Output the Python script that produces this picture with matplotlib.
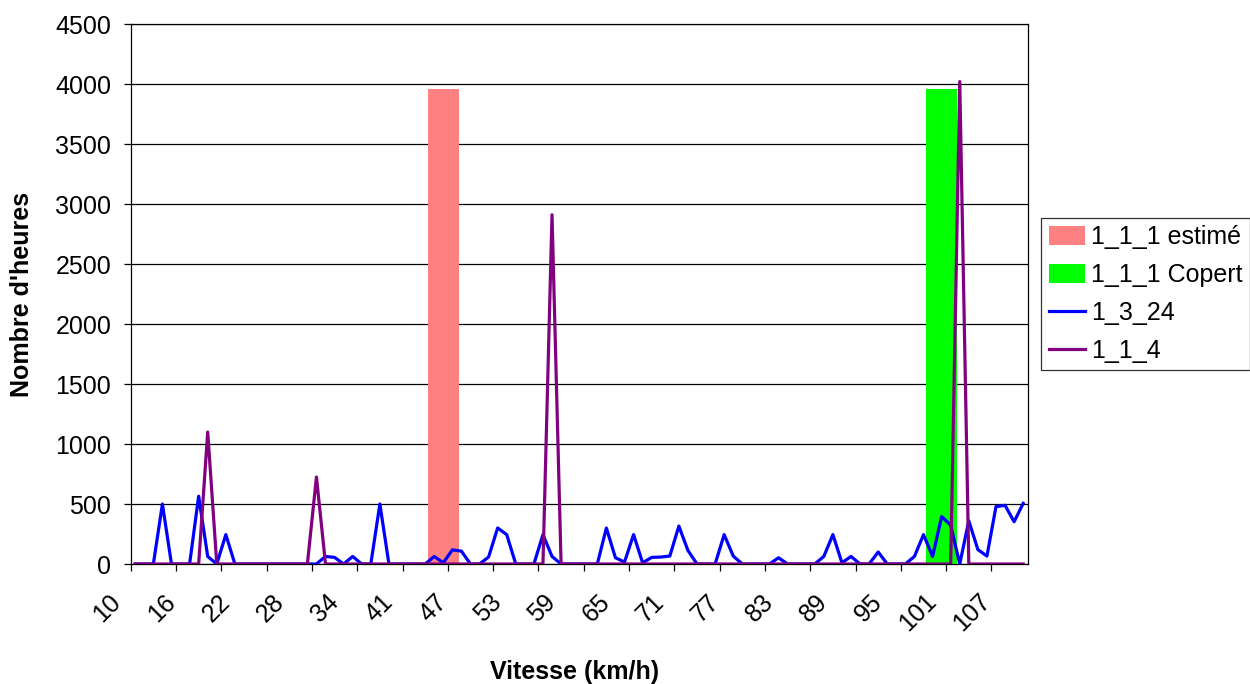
import numpy as np
import matplotlib
matplotlib.use("Agg")
import matplotlib.pyplot as plt
from matplotlib.transforms import ScaledTranslation

plt.rcParams['font.family'] = ['Liberation Sans', 'DejaVu Sans']

# speeds (km/h), one category per speed
speeds = list(range(10, 35)) + list(range(36, 110))

# hours per speed
serie_1_3_24 = [0, 0, 0, 500, 0, 0, 0, 565, 63, 0,
                245, 0, 0, 0, 0, 0, 0, 0, 0, 0,
                0, 63, 55, 0, 63, 0, 0, 500, 0, 0,
                0, 0, 0, 63, 10, 118, 107, 0, 0, 58,
                300, 245, 0, 0, 0, 245, 63, 0, 0, 0,
                0, 0, 300, 52, 16, 245, 10, 55, 58, 66,
                316, 113, 0, 0, 0, 245, 66, 0, 0, 0,
                0, 52, 0, 0, 0, 0, 63, 245, 10, 63,
                0, 0, 100, 0, 0, 0, 63, 245, 63, 395,
                324, 0, 360, 120, 66, 478, 489, 352, 505]

serie_1_1_4 = [0] * len(speeds)
pics_1_1_4 = {18: 1100, 30: 725, 57: 2910, 102: 4020}
for v, h in pics_1_1_4.items():
    serie_1_1_4[speeds.index(v)] = h

# bar series: one speed each
estime_vitesse, estime_heures = 45, 3960
copert_vitesse, copert_heures = 100, 3960

tick_every = 6
minor_every = 5
fs = 18

x = np.arange(len(speeds))

fig = plt.figure(figsize=(12.5, 6.84), dpi=100)
ax = fig.add_axes([130.7 / 1250, 1 - 564 / 684, 897 / 1250, 540 / 684])

b1 = ax.bar(speeds.index(estime_vitesse), estime_heures, width=3.4, color='#FF8080',
            label='1_1_1 estimé', zorder=2)
b2 = ax.bar(speeds.index(copert_vitesse), copert_heures, width=3.4, color='#00FF00',
            label='1_1_1 Copert', zorder=2)
l1, = ax.plot(x, serie_1_3_24, color='#0000FF', lw=2.3, label='1_3_24', zorder=3)
l2, = ax.plot(x, serie_1_1_4, color='#800080', lw=2.3, label='1_1_4', zorder=4)

ax.set_xlim(-0.5, len(speeds) - 0.5)
ax.set_ylim(0, 4500)
ax.set_yticks(np.arange(0, 4501, 500))
ax.yaxis.grid(True, color='black', lw=0.9)
ax.set_axisbelow(True)

pos = x[::tick_every]
ax.set_xticks(pos, [str(speeds[i]) for i in pos])
ax.set_xticks(np.arange(-0.5, len(speeds) - 1, minor_every), minor=True)
ax.tick_params(axis='x', which='major', length=0, pad=0, labelsize=fs)
ax.tick_params(axis='x', which='minor', length=5, direction='out', width=0.9)
ax.tick_params(axis='y', length=5, direction='out', width=0.9, labelsize=fs, pad=9)

off = ScaledTranslation(-0.18, -0.34, fig.dpi_scale_trans)
for lab in ax.get_xticklabels():
    lab.set_rotation(45)
    lab.set_ha('right')
    lab.set_va('center')
    lab.set_rotation_mode('anchor')
    lab.set_transform(lab.get_transform() + off)

for s in ax.spines.values():
    s.set_color('black')
    s.set_linewidth(0.9)

fig.text(575 / 1250, 1 - 679 / 684, 'Vitesse (km/h)', fontsize=18, fontweight='bold',
         ha='center', va='baseline')
fig.text(22 / 1250, 1 - 294 / 684, "Nombre d'heures", fontsize=18, fontweight='bold',
         ha='center', va='center', rotation=90)

leg = ax.legend([b1, b2, l1, l2], ['1_1_1 estimé', '1_1_1 Copert', '1_3_24', '1_1_4'],
                loc='upper left', bbox_to_anchor=(1041 / 1250, 1 - 218 / 684),
                bbox_transform=fig.transFigure, fontsize=fs, frameon=True,
                fancybox=False, edgecolor='black', borderpad=0.3, labelspacing=0.55,
                handlelength=1.45, handleheight=0.77, handletextpad=0.25,
                borderaxespad=0)
leg.get_frame().set_linewidth(0.9)

fig.savefig('out.png', dpi=100)
